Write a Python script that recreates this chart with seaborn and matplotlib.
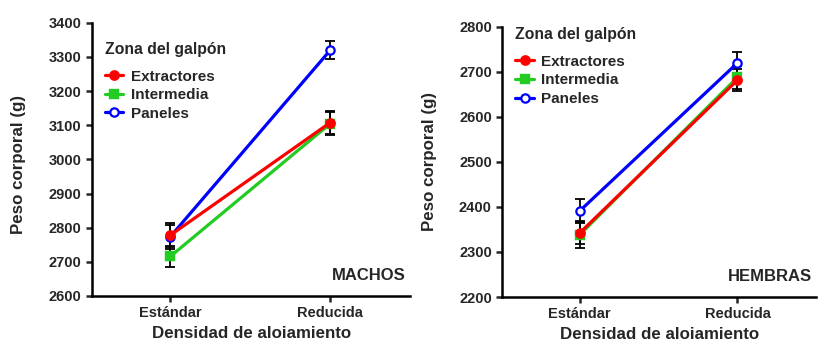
import numpy as np
import pandas as pd
import matplotlib
matplotlib.use("Agg")
import matplotlib.pyplot as plt
import seaborn as sns

# data (mean and SE)
densidad = ["Estándar", "Reducida"]
zonas = ["Extractores", "Intermedia", "Paneles"]

machos_extractores = [2778, 3108]
machos_intermedia = [2716, 3105]
machos_paneles = [2774, 3320]
machos_se_extractores = [35, 33]
machos_se_intermedia = [30, 33]
machos_se_paneles = [35, 26]

hembras_extractores = [2342, 2682]
hembras_intermedia = [2338, 2688]
hembras_paneles = [2391, 2720]
hembras_se_extractores = [25, 25]
hembras_se_intermedia = [30, 25]
hembras_se_paneles = [27, 25]

colores = {"Extractores": "#ff0000", "Intermedia": "#22cc22", "Paneles": "#0000ff"}
orden_z = {"#ff0000": 5, "#22cc22": 4, "#0000ff": 3}

sns.set_style("ticks")
plt.rcParams["font.family"] = ["Liberation Sans", "DejaVu Sans"]
plt.rcParams["font.weight"] = "bold"


def make_df(ext, inter, pan, se_e, se_i, se_p):
    rows = []
    for z, vals, ses in zip(zonas, [ext, inter, pan], [se_e, se_i, se_p]):
        for d, v, s in zip(densidad, vals, ses):
            rows.append({"Densidad": d, "Zona": z, "Peso": v, "SE": s})
    return pd.DataFrame(rows)


df_m = make_df(machos_extractores, machos_intermedia, machos_paneles,
               machos_se_extractores, machos_se_intermedia, machos_se_paneles)
df_h = make_df(hembras_extractores, hembras_intermedia, hembras_paneles,
               hembras_se_extractores, hembras_se_intermedia, hembras_se_paneles)

fig = plt.figure(figsize=(8.18, 3.41), dpi=100)
ax1 = fig.add_axes([0.1125, 0.132, 0.389, 0.801])
ax2 = fig.add_axes([0.614, 0.129, 0.384, 0.792])


def draw(ax, df, ylim, yticks, sexo, ylab_y, leg_y):
    # error bars first so the lines sit on top
    for z in zonas:
        sub = df[df.Zona == z]
        xpos = [densidad.index(d) for d in sub.Densidad]
        ax.errorbar(xpos, sub.Peso, yerr=sub.SE, fmt="none", ecolor="black",
                    elinewidth=1.3, capsize=3.5, capthick=1.3, zorder=1)
    sns.pointplot(data=df, x="Densidad", y="Peso", hue="Zona", order=densidad,
                  hue_order=zonas, palette=colores, markers=["o", "s", "o"],
                  linestyles="-", errorbar=None, ax=ax,
                  markersize=6, linewidth=2.3)
    for line in ax.lines:
        c = matplotlib.colors.to_hex(line.get_color())
        if c in orden_z:
            line.set_zorder(orden_z[c])
        if c == "#0000ff":
            line.set_markerfacecolor("white")
            line.set_markeredgewidth(1.6)
    ax.set_ylim(*ylim)
    ax.set_yticks(yticks)
    ax.set_xlim(-0.49, 1.5)
    ax.set_xlabel("Densidad de aloiamiento", fontsize=12.2, fontweight="bold")
    ax.set_ylabel("Peso corporal (g)", fontsize=12.2, fontweight="bold")
    ax.yaxis.set_label_coords(-0.208, ylab_y)
    ax.tick_params(axis="both", labelsize=10.5, width=1.8, length=4, direction="out")
    for lab in ax.get_xticklabels() + ax.get_yticklabels():
        lab.set_fontweight("bold")
    for s in ["left", "bottom"]:
        ax.spines[s].set_linewidth(1.8)
        ax.spines[s].set_color("black")
    sns.despine(ax=ax)
    leg = ax.legend(title="Zona del galpón", loc="upper left", frameon=False,
                    fontsize=11, title_fontsize=11.3, handlelength=1.2,
                    handletextpad=0.5, labelspacing=0.3,
                    bbox_to_anchor=(-0.002, leg_y))
    leg.get_title().set_fontweight("bold")
    leg._legend_box.align = "left"
    leg._legend_box.sep = 9
    for t in leg.get_texts():
        t.set_fontweight("bold")
    for h in leg.legend_handles:
        if matplotlib.colors.to_hex(h.get_color()) == "#0000ff":
            h.set_markerfacecolor("white")
    ax.text(0.985, 0.06, sexo, transform=ax.transAxes, ha="right",
            fontsize=12, fontweight="bold")


draw(ax1, df_m, (2600, 3400), range(2600, 3401, 100), "MACHOS", 0.48, 0.98)
draw(ax2, df_h, (2200, 2800), range(2200, 2801, 100), "HEMBRAS", 0.5, 1.05)

fig.savefig("out.png", dpi=100)
